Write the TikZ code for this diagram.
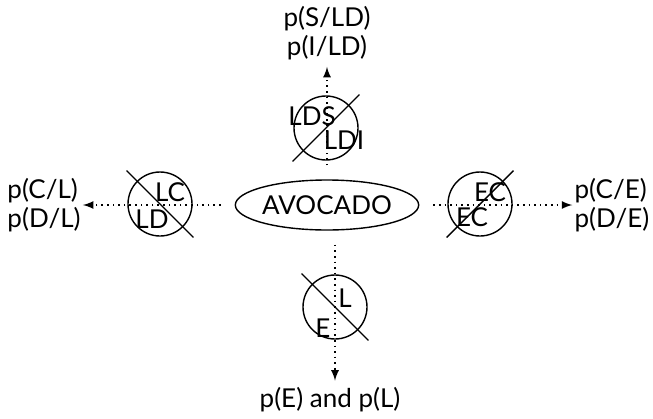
\documentclass[tikz,border=0pt]{standalone}
\usepackage{fontspec}
\setmainfont{Lato}
\usetikzlibrary{shapes.geometric}
\tikzstyle{factor}=[circle, draw, line width=0.7pt, minimum size=32pt, inner sep=0pt]
\tikzstyle{fruit}=[ellipse, draw, line width=0.7pt, minimum width=85pt, minimum height=25pt, inner sep=0pt]
\tikzset{cut/.style={line width=0.7pt, shorten <=-7.3pt, shorten >=-7.3pt}}
\tikzset{flow/.style={-latex, dotted, line width=0.8pt, shorten <=7pt}}
\tikzset{prob/.style={align=left, inner xsep=1pt}}

\begin{document}
\begin{tikzpicture}[x=0.5pt,y=-0.5pt,font=\fontsize{13}{14.5}\selectfont]
  \useasboundingbox (0,0) rectangle (653,418);
  \draw (327,205) node[fruit] (avo) {AVOCADO};

  %% the four crossed factors
  \draw (326,128) node[factor] (top) {};
  \draw (160,204) node[factor] (left) {};
  \draw (480,204) node[factor] (right) {};
  \draw (335,307) node[factor] (bot) {};

  \draw[cut] (top.south west) -- (top.north east);
  \draw[cut] (left.north west) -- (left.south east);
  \draw[cut] (right.south west) -- (right.north east);
  \draw[cut] (bot.north west) -- (bot.south east);

  \draw (312,116) node (lds) {LDS};
  \draw (344,140) node (ldi) {LDI};
  \draw (170,192) node (lc) {LC};
  \draw (152,219) node (ld) {LD};
  \draw (490,192) node (ecTop) {EC};
  \draw (472,217) node (ecBot) {EC};
  \draw (345,298) node (l) {L};
  \draw (323,328) node (e) {E};

  %% outcomes
  \draw (327,33) node[align=center] (pTop) {p(S/LD)\\p(I/LD)};
  \draw (44,205) node[prob] (pLeft) {p(C/L)\\p(D/L)};
  \draw (612,205) node[prob] (pRight) {p(C/E)\\p(D/E)};
  \draw (330,400) node (pBot) {p(E) and p(L)};

  \draw[flow] (avo.north) -- (pTop.south);
  \draw[flow] (avo.west) -- (pLeft.east);
  \draw[flow] (avo.east) -- (pRight.west);
  \draw[flow] (bot |- avo.south) -- (bot |- pBot.north);
\end{tikzpicture}
\end{document}
